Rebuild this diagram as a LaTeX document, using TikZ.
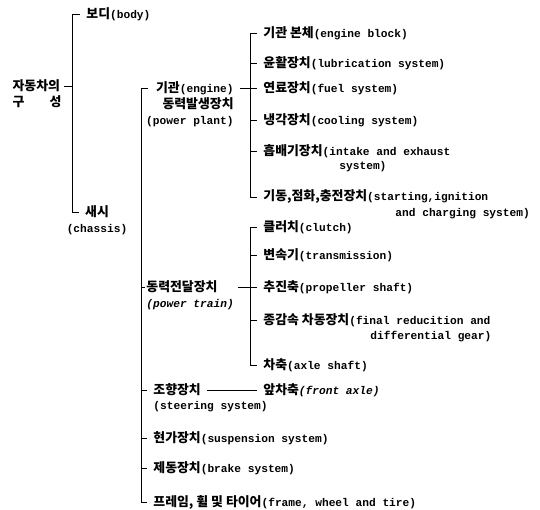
\documentclass[tikz,border=0pt]{standalone}
\usepackage{fontspec}
\setmainfont{Liberation Mono}
\newfontfamily\kr{Noto Sans CJK KR}[Scale=1.15]
\newcommand{\K}[1]{{\kr #1}}
\usetikzlibrary{calc}

\begin{document}
\begin{tikzpicture}[x=1pt,y=-1pt,line width=0.8pt,
  every node/.style={font=\fontsize{11.2}{16}\selectfont\bfseries,inner ysep=1pt},
  item/.style={anchor=west,inner xsep=6pt}]
  \useasboundingbox (0,0) rectangle (540,510);

  \coordinate (r1) at (72,14);
  \coordinate (r2) at (72,86);
  \coordinate (r3) at (72,212);
  \coordinate (r3e) at (79,212);

  \node[anchor=east,align=left,inner xsep=2pt] (car) at (64,94) {\K{자동차의}\\\makebox[49pt][s]{\K{구}\hfill\K{성}}};
  \node[item] (body) at ($(r1)+(8,0)$) {\K{보디}(body)};
  \node[align=center] (chassis) at (97,220) {\K{새시}\\(chassis)};
  \draw (body) -- (r1) -- (r3) -- (r3e);
  \draw (car.east |- r2) -- (r2);

  \coordinate (c1) at (141,88);
  \coordinate (c1e) at (148,88);
  \coordinate (c2) at (141,287);
  \coordinate (c2e) at (145,287);
  \coordinate (c3) at (141,390);
  \coordinate (c4) at (141,438);
  \coordinate (c5) at (141,468);
  \coordinate (c6) at (141,502);

  \node[anchor=east,align=right,inner xsep=2pt] (engine) at (236,104) {\K{기관}(engine)\\\K{동력발생장치}\\(power plant)};
  \node[item,align=left,inner xsep=4pt] (ptrain) at (142,295) {\K{동력전달장치}\\\textit{(power train)}};
  \node[item] (steer) at ($(c3)+(6,0)$) {\K{조향장치}};
  \node[item] (steer2) at ($(c3)+(6,17)$) {(steering system)};
  \node[item] (faxle) at (257,390) {\K{앞차축}\textit{(front axle)}};
  \node[item] (susp) at ($(c4)+(6,0)$) {\K{현가장치}(suspension system)};
  \node[item] (brake) at ($(c5)+(6,0)$) {\K{제동장치}(brake system)};
  \node[item] (frame) at ($(c6)+(6,0)$) {\K{프레임, 휠 및 타이어}(frame, wheel and tire)};
  \draw (c1e) -- (c1) -- (c6) -- (frame);
  \draw (c2) -- (c2e);
  \draw (c3) -- (steer);
  \draw (steer) -- (faxle);
  \draw (c4) -- (susp);
  \draw (c5) -- (brake);

  \coordinate (e1) at (250,33);
  \coordinate (e2) at (250,63);
  \coordinate (e3) at (250,88);
  \coordinate (e3l) at (240,88);
  \coordinate (e4) at (250,120);
  \coordinate (e5) at (250,151);
  \coordinate (e6) at (250,197);

  \node[item] (block) at ($(e1)+(7,0)$) {\K{기관 본체}(engine block)};
  \node[item] (lube) at ($(e2)+(7,0)$) {\K{윤활장치}(lubrication system)};
  \node[item] (fuel) at ($(e3)+(7,0)$) {\K{연료장치}(fuel system)};
  \node[item] (cool) at ($(e4)+(7,0)$) {\K{냉각장치}(cooling system)};
  \node[item] (intake) at ($(e5)+(7,0)$) {\K{흡배기장치}(intake and exhaust};
  \node[item] (intake2) at ($(intake.west)+(76,16)$) {system)};
  \node[item] (start) at ($(e6)+(7,0)$) {\K{기동,점화,충전장치}(starting,ignition};
  \node[item] (start2) at ($(start.west)+(132,17)$) {and charging system)};
  \draw (block) -- (e1) -- (e6) -- (start);
  \draw (lube) -- (e2);
  \draw (e3l) -- (fuel);
  \draw (e4) -- (cool);
  \draw (e5) -- (intake);

  \coordinate (p1) at (250,227);
  \coordinate (p2) at (250,255);
  \coordinate (p3) at (250,287);
  \coordinate (p3l) at (238,287);
  \coordinate (p4) at (250,320);
  \coordinate (p5) at (250,365);

  \node[item] (clutch) at ($(p1)+(7,0)$) {\K{클러치}(clutch)};
  \node[item] (trans) at ($(p2)+(7,0)$) {\K{변속기}(transmission)};
  \node[item] (prop) at ($(p3)+(7,0)$) {\K{추진축}(propeller shaft)};
  \node[item] (final) at ($(p4)+(7,0)$) {\K{종감속 차동장치}(final reducition and};
  \node[item] (final2) at ($(final.west)+(107,17)$) {differential gear)};
  \node[item] (axle) at ($(p5)+(7,0)$) {\K{차축}(axle shaft)};
  \draw (clutch) -- (p1) -- (p5) -- (axle);
  \draw (p2) -- (trans);
  \draw (p3l) -- (prop);
  \draw (p4) -- (final);
\end{tikzpicture}
\end{document}
